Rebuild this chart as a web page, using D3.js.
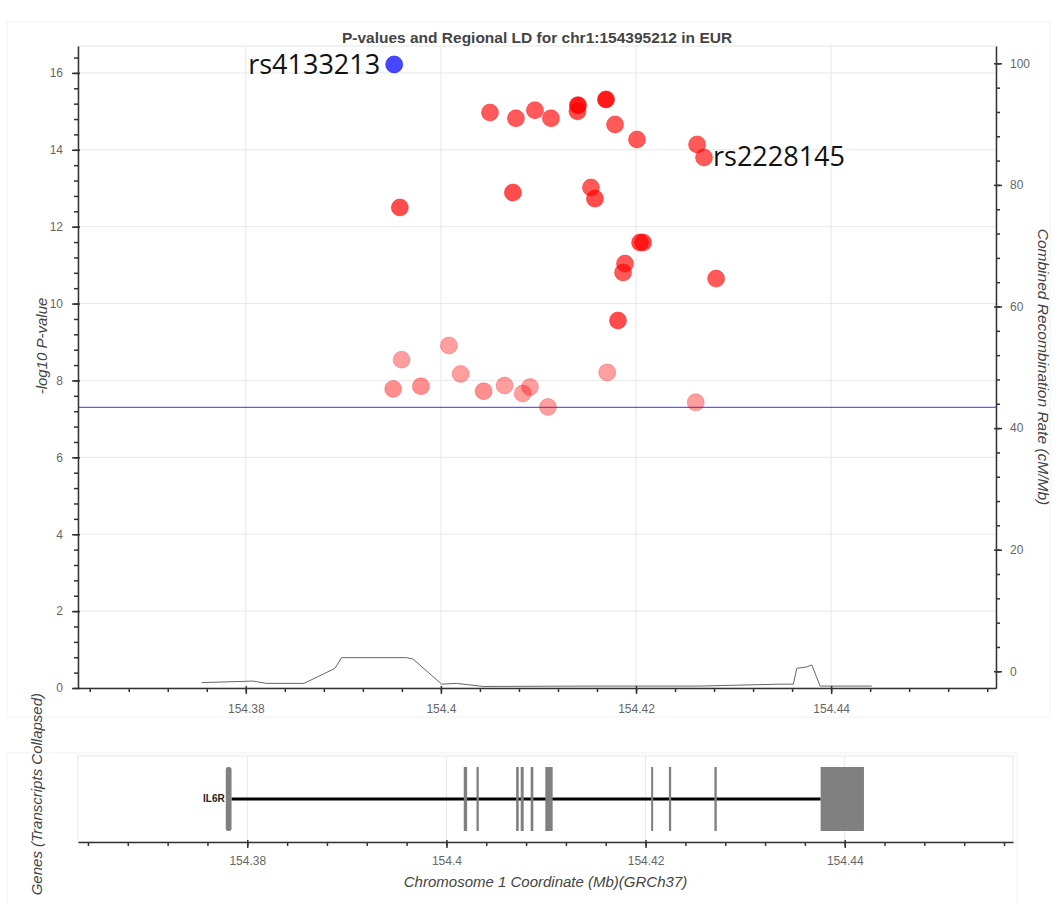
<!DOCTYPE html>
<html>
<head>
<meta charset="utf-8">
<script src="https://cdn.jsdelivr.net/npm/d3@7"></script>
<style>
body { margin: 0; background: #fff; }
text { font-family: "Liberation Sans", Arial, sans-serif; }
</style>
</head>
<body>
<div id="chart"></div>
<script>
// ---- data ----
var snpPos = [154.40503, 154.40769, 154.40964, 154.41128, 154.41405, 154.41400, 154.41692,
  154.41785, 154.42010, 154.42626, 154.42697, 154.39579, 154.40738, 154.41538, 154.41579,
  154.42041, 154.42072, 154.41887, 154.41867, 154.42821, 154.41815,
  154.39597, 154.40082, 154.40202, 154.39511, 154.39795, 154.40438, 154.40653, 154.40838,
  154.40913, 154.41097, 154.41705, 154.42612];
var snpLogP = [14.97, 14.82, 15.03, 14.82, 15.16, 15.00, 15.31,
  14.66, 14.27, 14.14, 13.80, 12.50, 12.89, 13.02, 12.73,
  11.59, 11.59, 11.04, 10.81, 10.65, 9.56,
  8.54, 8.91, 8.17, 7.78, 7.85, 7.72, 7.87, 7.66,
  7.83, 7.31, 8.21, 7.43];
var snpR2 = [0.9, 0.9, 0.9, 0.9, 1.0, 0.92, 1.0,
  0.9, 0.9, 0.9, 0.9, 0.92, 0.92, 0.9, 0.92,
  0.92, 0.92, 0.9, 0.9, 0.9, 0.92,
  0.45, 0.45, 0.45, 0.55, 0.55, 0.55, 0.45, 0.45,
  0.45, 0.45, 0.45, 0.45];

var leadSnp = "rs4133213", leadPos = 154.395212, leadLogP = 16.22;
var tagSnp = "rs2228145", tagIndex = 10;
var gwasThreshold = 7.3;

var recombPos = [154.37546, 154.38075, 154.38212, 154.38588, 154.38605, 154.38913, 154.38982,
  154.39648, 154.39716, 154.40007, 154.40161, 154.40434, 154.41528, 154.42656, 154.43477,
  154.43613, 154.43648, 154.43751, 154.43802, 154.43887, 154.44417];
var recombVal = [0.14, 0.18, 0.12, 0.12, 0.13, 0.51, 0.79,
  0.79, 0.75, 0.10, 0.12, 0.04, 0.05, 0.05, 0.10,
  0.10, 0.51, 0.55, 0.60, 0.05, 0.05];

var geneName = "IL6R", geneStart = 154.37842, geneEnd = 154.43758;
var exonStart = [154.37784, 154.40174, 154.40302, 154.40700, 154.40746, 154.40846, 154.40993,
  154.42056, 154.42234, 154.42691, 154.43758];
var exonEnd = [154.37842, 154.40208, 154.40325, 154.40726, 154.40776, 154.40873, 154.41067,
  154.42076, 154.42257, 154.42715, 154.44193];

var xTicks = [154.38, 154.4, 154.42, 154.44];
var yTicks = [0, 2, 4, 6, 8, 10, 12, 14, 16];
var y2Ticks = [0, 20, 40, 60, 80, 100];

var title = "P-values and Regional LD for chr1:154395212 in EUR";

// ---- layout ----
var plot = {left: 78, right: 996, top: 46, bottom: 688};
var gplot = {left: 78, right: 1013, top: 756, bottom: 842};

var svg = d3.select("#chart").append("svg")
  .attr("width", 1055)
  .attr("height", 905);

var x = d3.scaleLinear().domain([154.3628, 154.4569]).range([plot.left, plot.right]);
var y = d3.scaleLinear().domain([0, 16.7]).range([plot.bottom, plot.top]);
var y2 = d3.scaleLinear().domain([-2.75, 102.85]).range([plot.bottom, plot.top]);
var xg = d3.scaleLinear().domain([154.3630, 154.4569]).range([gplot.left, gplot.right]);

var xMinor = d3.range(154.364, 154.4575, 0.004);
var yMinor = d3.range(0, 16.7, 0.4);
var y2Minor = d3.range(0, 103, 4);

// faint figure outlines
svg.append("rect").attr("x", 7).attr("y", 22).attr("width", 1043).attr("height", 695)
  .attr("fill", "none").attr("stroke", "#f2f2f2");
svg.append("rect").attr("x", 7).attr("y", 753).attr("width", 1010).attr("height", 160)
  .attr("fill", "none").attr("stroke", "#f2f2f2");

// ---- main panel ----
svg.append("rect")
  .attr("x", plot.left).attr("y", plot.top)
  .attr("width", plot.right - plot.left).attr("height", plot.bottom - plot.top)
  .attr("fill", "none").attr("stroke", "#e6e6e6");

var grid = svg.append("g").attr("stroke", "#e8e8e8").attr("stroke-width", 1);
grid.selectAll(".vx").data(xTicks).enter().append("line")
  .attr("x1", function(d) { return x(d); }).attr("x2", function(d) { return x(d); })
  .attr("y1", plot.top).attr("y2", plot.bottom);
grid.selectAll(".hy").data(yTicks.slice(1)).enter().append("line")
  .attr("x1", plot.left).attr("x2", plot.right)
  .attr("y1", function(d) { return y(d); }).attr("y2", function(d) { return y(d); });

// recombination line
var line = d3.line()
  .x(function(d, i) { return x(d); })
  .y(function(d, i) { return y(recombVal[i]); });
svg.append("path")
  .attr("d", line(recombPos))
  .attr("fill", "none")
  .attr("stroke", "#666")
  .attr("stroke-width", 1);

// genome-wide significance
svg.append("line")
  .attr("x1", plot.left).attr("x2", plot.right)
  .attr("y1", y(gwasThreshold)).attr("y2", y(gwasThreshold))
  .style("stroke", "#5a5aff").style("stroke-width", "1.3px");

// SNPs
var alpha = d3.scaleLinear().domain([0.4, 0.9, 1]).range([0.35, 0.65, 0.9]);
svg.append("g").selectAll("circle")
  .data(snpPos)
  .enter().append("circle")
  .attr("cx", function(d) { return x(d); })
  .attr("cy", function(d, i) { return y(snpLogP[i]); })
  .attr("r", 8.5)
  .attr("fill", "#ff0000")
  .attr("fill-opacity", function(d, i) { return alpha(snpR2[i]); })
  .attr("stroke", "#ff0000")
  .attr("stroke-opacity", function(d, i) { return alpha(snpR2[i]) * 0.6; });

svg.append("circle")
  .attr("cx", x(leadPos)).attr("cy", y(leadLogP)).attr("r", 8.5)
  .attr("fill", "#0000ff").attr("fill-opacity", 0.72)
  .attr("stroke", "#0000ff").attr("stroke-opacity", 0.5);

svg.append("text")
  .attr("x", x(leadPos) - 14).attr("y", y(leadLogP) + 10)
  .attr("text-anchor", "end")
  .style("font-family", "'Open Sans', sans-serif")
  .style("font-size", "27px")
  .attr("fill", "#111")
  .text(leadSnp);
svg.append("text")
  .attr("x", x(snpPos[tagIndex]) + 9).attr("y", y(snpLogP[tagIndex]) + 9)
  .style("font-family", "'Open Sans', sans-serif")
  .style("font-size", "27px")
  .attr("fill", "#111")
  .text(tagSnp);

// axes
function styleAxis(g) {
  g.select(".domain").attr("stroke", "#333").attr("stroke-width", 1.5);
  g.selectAll(".tick line").attr("stroke", "#333").attr("stroke-width", 1.5);
  g.selectAll(".tick text").attr("fill", "#666").style("font-size", "12px");
}
function minorAxis(g) {
  g.select(".domain").remove();
  g.selectAll(".tick line").attr("stroke", "#333").attr("stroke-width", 1.5);
}

svg.append("g").attr("transform", "translate(0," + plot.bottom + ")")
  .call(d3.axisBottom(x).tickValues(xMinor).tickSize(4).tickFormat(""))
  .call(minorAxis);
var gx = svg.append("g").attr("transform", "translate(0," + plot.bottom + ")")
  .call(d3.axisBottom(x).tickValues(xTicks).tickSizeInner(6).tickSizeOuter(0)
    .tickPadding(10).tickFormat(d3.format("")))
  .call(styleAxis);
gx.selectAll(".tick line").attr("y1", -2);

svg.append("g").attr("transform", "translate(" + plot.left + ",0)")
  .call(d3.axisLeft(y).tickValues(yMinor).tickSize(4).tickFormat(""))
  .call(minorAxis);
var gy = svg.append("g").attr("transform", "translate(" + plot.left + ",0)")
  .call(d3.axisLeft(y).tickValues(yTicks).tickSizeInner(6).tickSizeOuter(0).tickPadding(9))
  .call(styleAxis);
gy.selectAll(".tick line").attr("x1", 2);

svg.append("g").attr("transform", "translate(" + plot.right + ",0)")
  .call(d3.axisRight(y2).tickValues(y2Minor).tickSize(4).tickFormat(""))
  .call(minorAxis);
var gy2 = svg.append("g").attr("transform", "translate(" + plot.right + ",0)")
  .call(d3.axisRight(y2).tickValues(y2Ticks).tickSizeInner(6).tickSizeOuter(0).tickPadding(8))
  .call(styleAxis);
gy2.selectAll(".tick line").attr("x1", -2);

// titles
svg.append("text")
  .attr("x", (plot.left + plot.right) / 2).attr("y", 43)
  .attr("text-anchor", "middle")
  .style("font-size", "15.5px").style("font-weight", "bold")
  .attr("fill", "#444")
  .text(title);

svg.append("text")
  .attr("transform", "translate(47,346) rotate(-90)")
  .attr("text-anchor", "middle")
  .style("font-size", "15px").style("font-style", "italic")
  .attr("fill", "#444")
  .text("-log10 P-value");

svg.append("text")
  .attr("transform", "translate(1038," + (plot.top + plot.bottom) / 2 + ") rotate(90)")
  .attr("text-anchor", "middle")
  .style("font-size", "15.5px").style("font-style", "italic")
  .attr("fill", "#444")
  .text("Combined Recombination Rate (cM/Mb)");

// ---- gene panel ----
svg.append("rect")
  .attr("x", gplot.left).attr("y", gplot.top)
  .attr("width", gplot.right - gplot.left).attr("height", gplot.bottom - gplot.top)
  .attr("fill", "none").attr("stroke", "#e6e6e6");
svg.append("g").selectAll("line").data(xTicks).enter().append("line")
  .attr("x1", function(d) { return xg(d); }).attr("x2", function(d) { return xg(d); })
  .attr("y1", gplot.top).attr("y2", gplot.bottom)
  .attr("stroke", "#e8e8e8");

var geneMid = 799;
svg.append("line")
  .attr("x1", xg(geneStart)).attr("x2", xg(geneEnd))
  .attr("y1", geneMid).attr("y2", geneMid)
  .attr("stroke", "#000").attr("stroke-width", 3);

svg.append("g").selectAll("rect")
  .data(exonStart)
  .enter().append("rect")
  .attr("x", function(d) { return xg(d); })
  .attr("width", function(d, i) { return Math.max(2, xg(exonEnd[i]) - xg(d)); })
  .attr("y", 767).attr("height", 64)
  .attr("rx", function(d, i) { return i == 0 ? 2.5 : 0; })
  .attr("fill", "#808080");

svg.append("text")
  .attr("x", xg(exonStart[0]) - 1).attr("y", geneMid)
  .attr("text-anchor", "end").attr("dominant-baseline", "middle")
  .style("font-size", "10px").style("font-weight", "bold")
  .attr("fill", "#222")
  .text(geneName);

svg.append("g").attr("transform", "translate(0," + gplot.bottom + ")")
  .call(d3.axisBottom(xg).tickValues(xMinor).tickSize(4).tickFormat(""))
  .call(minorAxis);
var gxg = svg.append("g").attr("transform", "translate(0," + gplot.bottom + ")")
  .call(d3.axisBottom(xg).tickValues(xTicks).tickSizeInner(6).tickSizeOuter(0)
    .tickPadding(8).tickFormat(d3.format("")))
  .call(styleAxis);
gxg.selectAll(".tick line").attr("y1", -2);

svg.append("text")
  .attr("x", (gplot.left + gplot.right) / 2).attr("y", 887)
  .attr("text-anchor", "middle")
  .style("font-size", "15px").style("font-style", "italic")
  .attr("fill", "#444")
  .text("Chromosome 1 Coordinate (Mb)(GRCh37)");

svg.append("text")
  .attr("transform", "translate(42,693) rotate(-90)")
  .attr("text-anchor", "end")
  .style("font-size", "15px").style("font-style", "italic")
  .attr("fill", "#444")
  .text("Genes (Transcripts Collapsed)");
</script>
</body>
</html>
